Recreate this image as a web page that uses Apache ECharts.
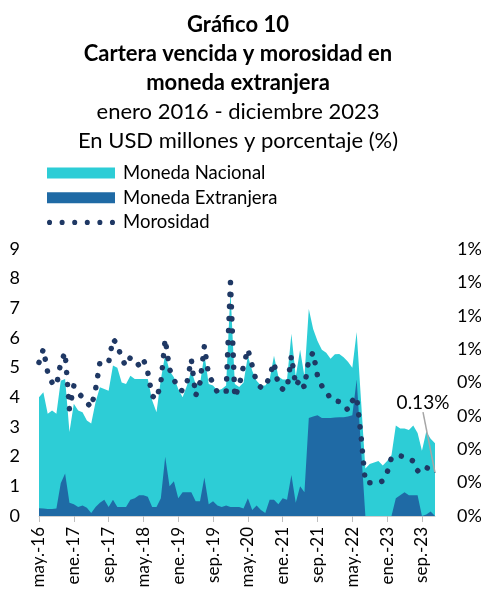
<!DOCTYPE html>
<html style="height: 100%">
<head>
<meta charset="utf-8">
<script src="https://cdn.jsdelivr.net/npm/echarts@6/dist/echarts.min.js"></script>
</head>
<body style="height: 100%; margin: 0; background: #fff">
<div id="container" style="width: 481px; height: 596px"></div>
<script type="text/javascript">
// months may-16 .. dic-23
var monthNames = ['ene.', 'feb.', 'mar.', 'abr.', 'may.', 'jun.', 'jul.', 'ago.', 'sep.', 'oct.', 'nov.', 'dic.'];
var startYear = 2016, startMonth = 4, nMonths = 92;

// USD millones
var monedaNacional = [
    4.0, 4.17, 3.45, 3.56, 3.45, 4.56, 4.62, 2.83, 3.78, 3.56, 3.5, 3.22,
    3.12, 3.84, 4.34, 4.28, 4.22, 5.07, 5.0, 4.5, 4.45, 4.73, 4.62, 4.62,
    4.62, 4.62, 3.9, 3.5, 4.6, 5.45, 4.9, 4.68, 4.28, 4.0, 4.4, 4.9,
    4.45, 4.45, 5.45, 4.45, 4.4, 4.23, 4.28, 4.4, 7.6, 4.45, 4.35, 4.5,
    5.4, 4.9, 4.56, 4.4, 4.4, 4.6, 5.4, 4.7, 4.6, 4.6, 6.14, 4.7,
    5.6, 4.7, 6.98, 6.3, 5.9, 5.6, 5.5, 5.3, 5.45, 5.46, 5.35, 5.2,
    5.0, 6.2, 3.9, 1.6, 1.75, 1.8, 1.85, 1.7, 1.85, 2.05, 3.05, 2.95,
    2.95, 2.9, 3.05, 2.8, 2.2, 2.85, 2.6, 2.45
];
var monedaExtranjera = [
    0.26, 0.25, 0.24, 0.24, 0.25, 1.1, 1.43, 0.45, 0.4, 0.3, 0.35, 0.28,
    0.1, 0.3, 0.45, 0.55, 0.3, 0.55, 0.3, 0.3, 0.3, 0.55, 0.6, 0.7,
    0.7, 0.65, 0.3, 0.3, 0.6, 2.0, 1.0, 1.17, 0.6, 0.8, 0.8, 0.8,
    0.5, 0.5, 1.3, 0.4, 0.5, 0.35, 0.3, 0.35, 0.3, 0.3, 0.3, 0.25,
    0.6, 0.2, 0.35, 0.2, 0.1, 0.55, 0.55, 0.4, 0.6, 0.55, 1.38, 0.45,
    1.0, 0.8, 3.3, 3.35, 3.4, 3.3, 3.3, 3.3, 3.32, 3.33, 3.33, 3.35,
    3.4, 4.6, 2.3, 0, 0, 0, 0, 0, 0, 0, 0.6, 0.7,
    0.8, 0.7, 0.7, 0.7, 0, 0.05, 0.15, 0
];
// porcentaje
var morosidad = [
    0.46, 0.50, 0.43, 0.40, 0.39, 0.46, 0.49, 0.32, 0.39, 0.37, 0.355, 0.34,
    0.325, 0.38, 0.46, 0.46, 0.46, 0.53, 0.515, 0.47, 0.45, 0.475, 0.47, 0.45,
    0.47, 0.43, 0.36, 0.35, 0.40, 0.53, 0.44, 0.41, 0.38, 0.375, 0.40, 0.47,
    0.36, 0.40, 0.51, 0.42, 0.40, 0.37, 0.37, 0.37, 0.70, 0.355, 0.39, 0.45,
    0.50, 0.45, 0.40, 0.385, 0.385, 0.42, 0.46, 0.39, 0.38, 0.38, 0.48, 0.39,
    0.41, 0.385, 0.47, 0.49, 0.42, 0.39, 0.375, 0.35, 0.345, 0.343, 0.335, 0.317,
    0.345, 0.358, 0.24, 0.10, 0.10, 0.10, 0.10, 0.105, 0.13, 0.175, 0.18, 0.18,
    0.178, 0.17, 0.165, 0.135, 0.15, 0.145, 0.14, 0.13
];

var categories = [];
for (var i = 0; i < nMonths; i++) {
    var m = (startMonth + i) % 12;
    var y = startYear + Math.floor((startMonth + i) / 12);
    categories.push(monthNames[m] + '-' + String(y).slice(2));
}

var cyan = '#2DCDD6', darkBlue = '#1F6AA5', navy = '#1F3864';
var font = 'Lato';

// six round dots for the legend icon
var dotIcon = 'path://';
for (var k = 0; k < 6; k++) {
    var cx = 2.5 + k * 12.4;
    dotIcon += 'M' + (cx - 2.5) + ' 2.5a2.5 2.5 0 1 0 5 0a2.5 2.5 0 1 0 -5 0Z';
}

var moroData = morosidad.map(function (v, i) {
    if (i !== morosidad.length - 1) return v;
    return {
        value: v,
        symbol: 'circle',
        symbolSize: 1,
        label: {
            show: true,
            position: 'top',
            formatter: '0.13%',
            color: '#000',
            fontSize: 19,
            fontFamily: font
        },
        labelLine: {show: true, lineStyle: {color: '#a6a6a6', width: 1.5}}
    };
});

var dom = document.getElementById('container');
var myChart = echarts.init(dom);
var option = {
    backgroundColor: '#fff',
    animation: false,
    title: {
        text: 'Gráfico 10\nCartera vencida y morosidad en\nmoneda extranjera',
        subtext: 'enero 2016 - diciembre 2023\nEn USD millones y porcentaje (%)',
        left: 233,
        textAlign: 'center',
        top: 5,
        itemGap: 0,
        textStyle: {fontFamily: font, fontSize: 22, fontWeight: 'bold', color: '#000', lineHeight: 29},
        subtextStyle: {fontFamily: font, fontSize: 22, color: '#000', lineHeight: 29}
    },
    legend: {
        orient: 'vertical',
        left: 42,
        top: 158.5,
        itemWidth: 68,
        itemHeight: 11,
        itemGap: 5.7,
        textStyle: {fontFamily: font, fontSize: 18.5, color: '#000', padding: [0, 0, 0, 3]},
        data: [
            {name: 'Moneda Nacional', icon: 'rect'},
            {name: 'Moneda Extranjera', icon: 'rect'},
            {name: 'Morosidad', icon: dotIcon, itemStyle: {color: navy}}
        ]
    },
    grid: {left: 39, right: 46, top: 249, bottom: 80, outerBoundsMode: 'none'},
    xAxis: {
        type: 'category',
        data: categories,
        boundaryGap: false,
        axisLine: {show: true, lineStyle: {color: '#d0d0d0'}},
        axisTick: {show: true, interval: 7, length: 6, lineStyle: {color: '#bfbfbf'}},
        axisLabel: {interval: 7, rotate: 90, margin: 11, fontFamily: font, fontSize: 17, color: '#000'}
    },
    yAxis: [{
        type: 'value',
        min: 0,
        max: 9,
        interval: 1,
        splitLine: {show: false},
        axisLine: {show: false},
        axisTick: {show: false},
        axisLabel: {margin: 19, fontFamily: font, fontSize: 18, color: '#000'}
    }, {
        type: 'value',
        min: 0,
        max: 0.8,
        interval: 0.1,
        splitLine: {show: false},
        axisLine: {show: false},
        axisTick: {show: false},
        axisLabel: {
            margin: 22, fontFamily: font, fontSize: 18, color: '#000', align: 'left',
            formatter: function (v) { return Math.round(v) + '%'; }
        }
    }],
    series: [{
        name: 'Moneda Nacional',
        type: 'line',
        data: monedaNacional,
        symbol: 'none',
        lineStyle: {width: 0},
        itemStyle: {color: cyan},
        areaStyle: {color: cyan, opacity: 1}
    }, {
        name: 'Moneda Extranjera',
        type: 'line',
        data: monedaExtranjera,
        symbol: 'none',
        lineStyle: {width: 0},
        itemStyle: {color: darkBlue},
        areaStyle: {color: darkBlue, opacity: 1}
    }, {
        name: 'Morosidad',
        type: 'line',
        yAxisIndex: 1,
        data: moroData,
        symbol: 'none',
        showAllSymbol: true,
        itemStyle: {color: navy},
        lineStyle: {color: navy, width: 5.5, type: [0.1, 12], cap: 'round', join: 'round'},
        labelLayout: {dx: -12, dy: -55},
        z: 5
    }]
};
myChart.setOption(option, true);
</script>
</body>
</html>
